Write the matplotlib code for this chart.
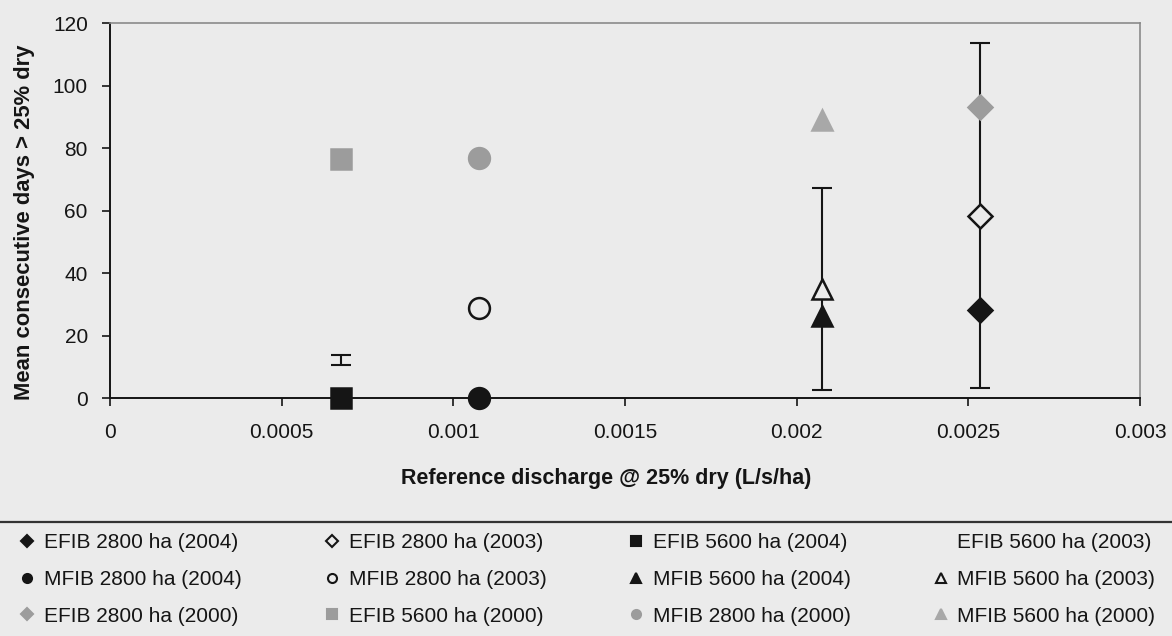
import matplotlib
matplotlib.use('Agg')
import matplotlib.pyplot as plt
from matplotlib.lines import Line2D

plt.rcParams['font.family'] = ['Liberation Sans', 'DejaVu Sans']

# series, in the order they appear row by row in the legend
labels = ['EFIB 2800 ha (2004)', 'EFIB 2800 ha (2003)', 'EFIB 5600 ha (2004)', 'EFIB 5600 ha (2003)',
          'MFIB 2800 ha (2004)', 'MFIB 2800 ha (2003)', 'MFIB 5600 ha (2004)', 'MFIB 5600 ha (2003)',
          'EFIB 2800 ha (2000)', 'EFIB 5600 ha (2000)', 'MFIB 2800 ha (2000)', 'MFIB 5600 ha (2000)']
x_vals = [0.002533, 0.002533, 0.000672, 0.000672,
          0.001075, 0.001075, 0.002073, 0.002073,
          0.002533, 0.000672, 0.001075, 0.002073]
y_vals = [28.2, 58.3, 0.0, 12.2,
          0.0, 28.7, 26.2, 35.0,
          93.2, 76.4, 76.7, 88.9]
y_errs = [0, 55.2, 0, 1.6,
          0, 0, 0, 32.3,
          0, 0, 0, 0]

xticks = [0, 0.0005, 0.001, 0.0015, 0.002, 0.0025, 0.003]
xtick_labels = ['0', '0.0005', '0.001', '0.0015', '0.002', '0.0025', '0.003']
yticks = [0, 20, 40, 60, 80, 100, 120]

bg = '#ebebeb'
blk = '#151515'
gry = '#9c9c9c'
# marker, face, edge (None -> no marker)
styles = [('D', blk, blk), ('D', bg, blk), ('s', blk, blk), (None, None, None),
          ('o', blk, blk), ('o', bg, blk), ('^', blk, blk), ('^', bg, blk),
          ('D', gry, gry), ('s', gry, gry), ('o', gry, gry), ('^', '#a8a8a8', '#a8a8a8')]
sizes = {'D': 12, 's': 14, 'o': 15, '^': 15}

fig = plt.figure(figsize=(11.72, 6.36), dpi=100)
fig.patch.set_facecolor(bg)
ax = fig.add_axes([0.0939, 0.3742, 0.8788, 0.5896])
ax.set_facecolor(bg)

for x, y, e, (m, fc, ec) in zip(x_vals, y_vals, y_errs, styles):
    if e > 0:
        ax.errorbar([x], [y], yerr=[e], fmt='none', ecolor=blk, elinewidth=1.5,
                    capsize=7, capthick=1.5, zorder=2)
    if m is not None:
        ax.plot([x], [y], linestyle='none', marker=m, markersize=sizes[m],
                markerfacecolor=fc, markeredgecolor=ec, markeredgewidth=1.8,
                zorder=3, clip_on=False)

ax.set_xlim(0, 0.003)
ax.set_ylim(0, 120)
ax.set_xticks(xticks)
ax.set_xticklabels(xtick_labels)
ax.set_yticks(yticks)
ax.tick_params(axis='both', direction='out', length=6, width=1.2, labelsize=15,
               colors=blk)
ax.tick_params(axis='x', pad=12)
ax.tick_params(axis='y', pad=10)
for s in ['top', 'right']:
    ax.spines[s].set_color('#8a8a8a')
    ax.spines[s].set_linewidth(1.2)
for s in ['left', 'bottom']:
    ax.spines[s].set_color(blk)
    ax.spines[s].set_linewidth(1.4)

fig.text(0.517, 0.2484, 'Reference discharge @ 25% dry (L/s/ha)', ha='center', va='center',
         fontsize=15.5, fontweight='bold', color=blk)
fig.text(0.0213, 0.651, 'Mean consecutive days > 25% dry', ha='center', va='center',
         rotation=90, fontsize=15.8, fontweight='bold', color=blk)

fig.add_artist(Line2D([0, 1], [0.1792, 0.1792], transform=fig.transFigure,
                      color='#333333', lw=1.6))

# legend handles; matplotlib fills columns first, so reorder
handles = []
for (m, fc, ec) in styles:
    if m is None:
        handles.append(Line2D([], [], linestyle='none', marker=None))
    else:
        handles.append(Line2D([], [], linestyle='none', marker=m, markersize=6.5,
                              markerfacecolor=fc, markeredgecolor=ec, markeredgewidth=1.5))
order = [0, 4, 8, 1, 5, 9, 2, 6, 10, 3, 7, 11]
fig.legend([handles[i] for i in order], [labels[i] for i in order], ncol=4,
           loc='lower left', bbox_to_anchor=(0.011, 0.003, 0.982, 0.17), mode='expand',
           frameon=False, fontsize=15, labelspacing=0.85, handlelength=0.6,
           handletextpad=0.5, borderaxespad=0, labelcolor=blk)

plt.savefig('out.png', dpi=100, facecolor=bg)
